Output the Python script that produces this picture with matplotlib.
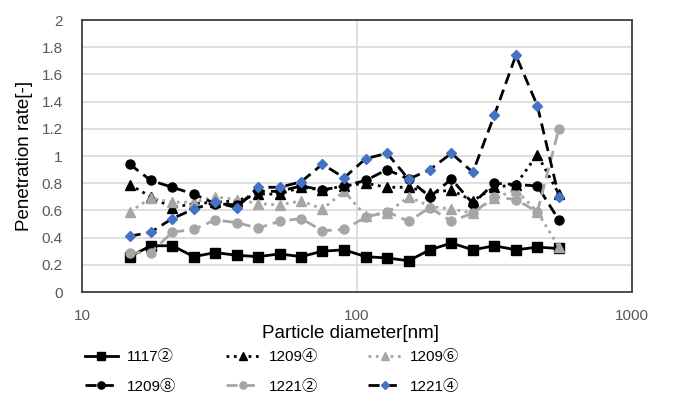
import matplotlib
matplotlib.use("Agg")
import matplotlib.pyplot as plt
from matplotlib.ticker import FixedLocator, NullLocator, FixedFormatter

plt.rcParams['font.family'] = ['Liberation Sans', 'Noto Sans CJK JP', 'DejaVu Sans']

diameter = [14.9, 17.8, 21.3, 25.5, 30.5, 36.5, 43.7, 52.3, 62.6, 74.9, 89.8,
            107.5, 128.6, 154.0, 184.1, 220.4, 263.8, 315.8, 378.2, 452.7, 542.0]

s1117_2 = [0.26, 0.34, 0.34, 0.26, 0.29, 0.27, 0.26, 0.28, 0.26, 0.30, 0.31,
           0.26, 0.25, 0.23, 0.31, 0.36, 0.31, 0.34, 0.31, 0.33, 0.32]
s1209_4 = [0.79, 0.70, 0.62, 0.65, 0.66, 0.67, 0.72, 0.72, 0.77, 0.75, 0.78,
           0.80, 0.77, 0.77, 0.73, 0.75, 0.67, 0.77, 0.79, 1.01, 0.72]
s1209_6 = [0.59, 0.69, 0.66, 0.66, 0.70, 0.68, 0.65, 0.64, 0.67, 0.61, 0.74,
           0.56, 0.58, 0.70, 0.63, 0.61, 0.58, 0.69, 0.75, 0.59, 0.33]
s1209_8 = [0.94, 0.82, 0.77, 0.72, 0.65, 0.64, 0.74, 0.74, 0.78, 0.75, 0.78,
           0.82, 0.90, 0.83, 0.70, 0.83, 0.65, 0.80, 0.79, 0.78, 0.53]
s1221_2 = [0.29, 0.29, 0.44, 0.46, 0.53, 0.51, 0.47, 0.52, 0.54, 0.45, 0.46,
           0.55, 0.59, 0.52, 0.62, 0.52, 0.58, 0.70, 0.68, 0.59, 1.20]
s1221_4 = [0.41, 0.44, 0.54, 0.61, 0.66, 0.62, 0.77, 0.77, 0.81, 0.94, 0.84,
           0.98, 1.02, 0.83, 0.90, 1.02, 0.88, 1.30, 1.74, 1.37, 0.70]

labels = ['1117②', '1209④', '1209⑥', '1209⑧', '1221②', '1221④']
yticks = [0, 0.2, 0.4, 0.6, 0.8, 1.0, 1.2, 1.4, 1.6, 1.8, 2.0]
ytick_labels = ['0', '0.2', '0.4', '0.6', '0.8', '1', '1.2', '1.4', '1.6', '1.8', '2']
xticks = [10, 100, 1000]
xtick_labels = ['10', '100', '1000']

fig = plt.figure(figsize=(6.73, 4.01), dpi=100)
ax = fig.add_axes([82/673, 1 - 292/401, (632-82)/673, (292-20)/401])

gray = '#a6a6a6'
blue = '#4472c4'
dash = (0, (4, 2.2))
lw = 2.0
ms = 6.5

h1, = ax.plot(diameter, s1117_2, color='black', ls='-', lw=lw, marker='s', ms=ms, label=labels[0], zorder=3)
h2, = ax.plot(diameter, s1209_4, color='black', ls=':', lw=lw, marker='^', ms=ms, label=labels[1], zorder=3)
h3, = ax.plot(diameter, s1209_6, color=gray, ls=':', lw=lw, marker='^', ms=ms, label=labels[2], zorder=3)
h4, = ax.plot(diameter, s1209_8, color='black', ls=dash, lw=lw, marker='o', ms=ms, label=labels[3], zorder=3)
h5, = ax.plot(diameter, s1221_2, color=gray, ls=dash, lw=lw, marker='o', ms=ms, label=labels[4], zorder=3)
h6, = ax.plot(diameter, s1221_4, color='black', ls=dash, lw=lw, marker='D', ms=5.5,
              markerfacecolor=blue, markeredgecolor=blue, label=labels[5], zorder=3)

ax.set_xscale('log')
ax.set_xlim(10, 1000)
ax.set_ylim(0, 2)
ax.xaxis.set_major_locator(FixedLocator(xticks))
ax.xaxis.set_major_formatter(FixedFormatter(xtick_labels))
ax.xaxis.set_minor_locator(NullLocator())
ax.set_yticks(yticks)
ax.set_yticklabels(ytick_labels)
ax.grid(True, color='#d9d9d9', lw=1.2, zorder=0)
ax.set_axisbelow(True)
ax.tick_params(axis='both', length=0, labelsize=11, colors='#595959')
ax.tick_params(axis='x', pad=12)
ax.tick_params(axis='y', pad=14)
for sp in ax.spines.values():
    sp.set_color('#404040')
    sp.set_linewidth(1.3)

ax.set_xlabel('Particle diameter[nm]', fontsize=13.5, color='black', labelpad=1)
ax.xaxis.set_label_coords((350 - 82) / 550, -0.12)
ax.xaxis.label.set_va('top')
ax.set_ylabel('Penetration rate[-]', fontsize=13.5, color='black', labelpad=6)

handles = [h1, h4, h2, h5, h3, h6]
labs = [h.get_label() for h in handles]
leg = fig.legend(handles, labs, ncol=3, loc='center left', bbox_to_anchor=(71/673, 1 - 372/401),
                 frameon=False, fontsize=11, handlelength=2.15, handletextpad=0.6,
                 columnspacing=3.3, labelspacing=1.0, markerscale=0.8)

fig.savefig('out.png', dpi=100)
